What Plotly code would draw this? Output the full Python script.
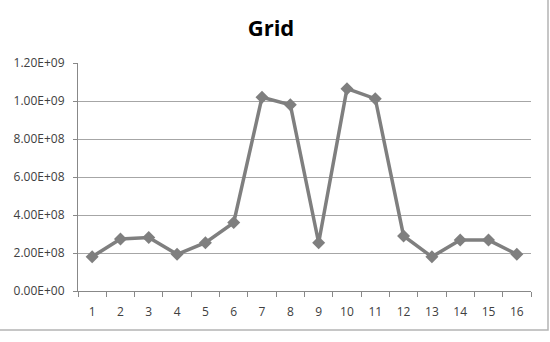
import plotly.graph_objects as go

categories = [str(i) for i in range(1, 17)]
values = [1.80e8, 2.74e8, 2.82e8, 1.93e8, 2.54e8, 3.60e8, 1.02e9, 0.98e9,
          2.54e8, 1.065e9, 1.012e9, 2.90e8, 1.80e8, 2.68e8, 2.68e8, 1.93e8]
y_ticks = [0, 2e8, 4e8, 6e8, 8e8, 1.0e9, 1.2e9]
y_tick_labels = ["0.00E+00", "2.00E+08", "4.00E+08", "6.00E+08", "8.00E+08", "1.00E+09", "1.20E+09"]

fig = go.Figure()
fig.add_trace(go.Scatter(
    x=categories, y=values, mode="lines+markers",
    line=dict(color="#7f7f7f", width=3.5),
    marker=dict(symbol="diamond", size=10, color="#7f7f7f"),
    showlegend=False,
))

font_family = "Open Sans, Liberation Sans, Arial, sans-serif"
fig.update_layout(
    width=550, height=342,
    margin=dict(l=78, r=19, t=63, b=51),
    paper_bgcolor="white", plot_bgcolor="white",
    title=dict(text="<b>Grid</b>", x=271 / 550, xref="container", xanchor="center",
               y=1 - 28 / 342, yref="container", yanchor="middle",
               font=dict(family=font_family, size=22, color="#000000")),
    xaxis=dict(type="category", tickson="boundaries", ticks="outside", ticklen=5,
               tickcolor="#888888", showline=True, linecolor="#888888", linewidth=1,
               showgrid=False, tickfont=dict(family=font_family, size=12, color="#404040"),
               ticklabelstandoff=10, range=[-0.5, 15.5]),
    yaxis=dict(range=[0, 1.2e9], tickvals=y_ticks, ticktext=y_tick_labels,
               ticks="outside", ticklen=4, tickcolor="#888888",
               showline=True, linecolor="#888888", linewidth=1,
               showgrid=True, gridcolor="#a6a6a6", gridwidth=1, zeroline=False,
               ticklabelstandoff=6,
               tickfont=dict(family=font_family, size=12, color="#404040")),
)

# chart-area border (right and bottom edges visible)
fig.add_shape(type="rect", xref="paper", yref="paper",
              x0=-200 / 453, x1=(548 - 78) / 453,
              y0=-(330 - 291) / 228, y1=1 + 100 / 228,
              line=dict(color="#b4b4b4", width=1.5), fillcolor="rgba(0,0,0,0)", layer="below")

fig.write_html("out.html")
